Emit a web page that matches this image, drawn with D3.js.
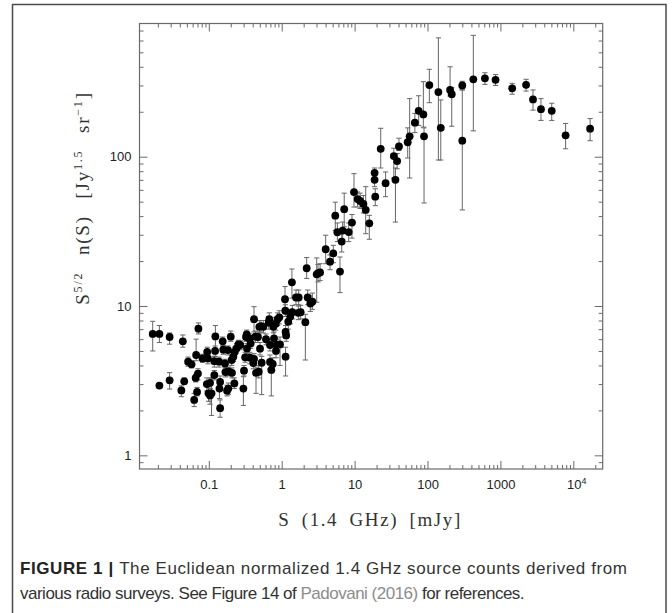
<!DOCTYPE html>
<html>
<head>
<meta charset="utf-8">
<script src="https://cdn.jsdelivr.net/npm/d3@7"></script>
<style>
  body { margin: 0; background: #fff; }
  svg { display: block; }
</style>
</head>
<body>
<div id="chart"></div>
<script>
// source counts: S in mJy, N = S^5/2 n(S), error bar ends
var fluxS = [0.017, 0.021, 0.029, 0.044, 0.021, 0.029, 0.042, 0.046, 0.072, 0.052,
  0.058, 0.067, 0.063, 0.069, 0.071, 0.066, 0.082, 0.095, 0.097, 0.123,
  0.122, 0.119, 0.094, 0.104, 0.099, 0.109, 0.104, 0.119, 0.143, 0.138,
  0.143, 0.14, 0.155, 0.158, 0.167, 0.169, 0.185, 0.178, 0.2, 0.183,
  0.206, 0.187, 0.208, 0.224, 0.217, 0.226, 0.24, 0.255, 0.27, 0.298,
  0.304, 0.315, 0.331, 0.324, 0.36, 0.334, 0.375, 0.367, 0.417, 0.408,
  0.417, 0.444, 0.484, 0.435, 0.473, 0.493, 0.52, 0.504, 0.531, 0.56,
  0.609, 0.676, 0.663, 0.691, 0.691, 0.72, 0.753, 0.767, 0.784, 0.827,
  0.854, 0.835, 0.88, 0.927, 0.948, 1.11, 1.12, 1.13, 1.13, 1.15,
  1.23, 1.31, 1.38, 1.4, 1.57, 1.71, 1.69, 1.82, 2.11, 2.2,
  2.27, 2.47, 2.63, 3.02, 3.15, 3.36, 4.01, 4.6, 5.1, 6.3,
  5.43, 5.8, 6.65, 6.85, 8.3, 7.2, 9.2, 9.8, 11.0, 11.9,
  13.2, 14.2, 15.9, 19.2, 18.8, 18.8, 26.6, 22.8, 34.5, 38.3,
  36.3, 40.6, 53.5, 56.9, 67.1, 75.6, 87.7, 89.6, 106, 141,
  152, 204, 215, 300, 300, 425, 613, 858, 1450, 2250,
  2800, 3600, 5060, 7840, 17000];

var countN = [6.5, 6.5, 6.2, 5.8, 2.93, 3.18, 2.72, 3.13, 7.05, 4.24,
  4.07, 4.7, 2.35, 2.66, 3.53, 3.3, 4.46, 4.93, 4.46, 6.26,
  5.0, 4.27, 3.0, 3.06, 2.6, 2.6, 2.52, 3.45, 2.07, 4.24,
  3.1, 2.8, 5.8, 5.1, 4.12, 3.61, 2.8, 2.71, 6.23, 5.07,
  4.35, 3.65, 3.57, 3.03, 4.58, 4.93, 5.2, 5.53, 5.48, 2.8,
  3.69, 4.53, 6.46, 6.2, 6.07, 5.2, 5.6, 4.51, 8.16, 4.15,
  4.42, 3.57, 3.63, 6.23, 6.2, 7.26, 7.33, 5.18, 4.17, 7.26,
  5.99, 8.16, 7.73, 5.48, 4.22, 3.73, 4.09, 7.26, 6.08, 7.6,
  5.48, 5.0, 8.16, 8.4, 5.53, 11.1, 9.3, 6.7, 4.58, 6.35,
  7.85, 8.5, 14.4, 9.1, 11.4, 11.4, 9.0, 9.1, 7.8, 17.9,
  11.4, 10.4, 10.7, 16.3, 16.6, 16.8, 24.0, 19.8, 22.5, 17,
  40.3, 31.2, 27, 32.0, 31.3, 44.5, 36.2, 58, 52, 50.5,
  48.3, 44, 35.8, 54, 78, 70, 66.5, 113, 101, 93.5,
  70, 117, 125, 137, 169, 203, 192, 137, 302, 271,
  156, 280, 262, 300, 128, 330, 335, 327, 287, 303,
  242, 208, 203, 139, 154];

var errLo = [5.0, 5.7, 5.55, 5.3, 2.85, 2.78, 2.47, 3.0, 6.5, 3.95,
  3.85, 4.3, 2.12, 2.5, 3.2, 3.1, 4.2, 4.6, 4.1, 5.2,
  4.6, 3.9, 2.7, 2.8, 2.3, 1.85, 2.2, 3.2, 1.8, 3.9,
  2.8, 2.4, 5.4, 4.75, 3.85, 3.35, 2.55, 2.5, 5.8, 4.7,
  4.0, 3.4, 3.3, 2.8, 4.25, 4.6, 4.85, 5.15, 5.1, 2.16,
  3.4, 4.2, 6.0, 5.8, 5.6, 4.8, 5.2, 4.1, 6.7, 3.8,
  4.0, 2.6, 3.3, 5.7, 5.7, 6.6, 6.7, 4.7, 2.55, 6.6,
  5.5, 7.4, 7.0, 5.0, 3.8, 2.5, 3.7, 6.6, 5.5, 6.9,
  5.0, 4.5, 7.4, 7.6, 4.0, 9.2, 8.5, 6.1, 3.4, 5.8,
  7.0, 7.6, 11.3, 8.2, 10.2, 10.2, 8.1, 8.2, 4.35, 15.3,
  10.2, 9.2, 9.5, 10.6, 14.5, 14.8, 19.2, 17.5, 19.5, 12.3,
  32, 27, 23, 28, 27, 34, 28.5, 46, 46, 45,
  42, 30.5, 28, 47, 70, 63, 54, 84, 72, 83,
  36.5, 110, 98, 72, 145, 162, 158, 49, 230, 95,
  95, 255, 160, 280, 44, 149, 305, 300, 262, 275,
  205, 175, 175, 113, 128];

var errHi = [7.9, 7.4, 6.6, 6.4, 3.0, 3.58, 2.92, 3.3, 7.7, 4.55,
  4.3, 6.0, 2.6, 2.85, 3.8, 3.5, 4.75, 5.3, 4.8, 7.4,
  5.4, 4.6, 3.3, 3.3, 2.9, 3.3, 2.8, 3.7, 2.35, 4.55,
  3.4, 3.2, 6.2, 5.45, 4.4, 3.9, 3.05, 2.95, 6.8, 5.4,
  4.7, 3.9, 3.85, 3.3, 4.9, 5.3, 5.6, 5.9, 5.85, 3.36,
  4.0, 4.9, 6.9, 6.6, 6.5, 5.6, 6.0, 4.9, 9.9, 4.5,
  4.8, 3.9, 4.0, 6.8, 6.7, 8.0, 8.0, 5.7, 4.6, 8.0,
  6.5, 9.0, 8.5, 6.0, 4.7, 4.1, 4.5, 8.0, 6.7, 8.4,
  6.0, 5.5, 9.0, 9.3, 6.2, 13.5, 10.2, 7.4, 5.3, 7.0,
  8.8, 9.5, 17.7, 10.1, 12.8, 12.8, 10.0, 10.1, 8.8, 21.1,
  12.8, 11.7, 12.2, 21, 19, 19.2, 29.8, 22, 25.5, 21.3,
  49.6, 36, 32, 36.5, 36, 57, 41, 77, 58, 57,
  55, 63, 40.5, 61, 84, 77, 79, 155, 114, 105,
  84, 133, 156, 245, 195, 256, 318, 156, 385, 625,
  240, 400, 290, 320, 280, 650, 365, 355, 310, 330,
  280, 245, 228, 167, 180];

var xTicks = [0.1, 1, 10, 100, 1000, 10000];
var xTickLabels = ["0.1", "1", "10", "100", "1000", "10"];
var yTicks = [1, 10, 100];
var yTickLabels = ["1", "10", "100"];

var width = 672, height = 613;
var plotLeft = 139.5, plotRight = 602.7, plotTop = 23.5, plotBottom = 469;

var svg = d3.select("#chart").append("svg")
  .attr("width", width)
  .attr("height", height);

// outer figure box
svg.append("rect")
  .attr("x", 12.5).attr("y", 4.5)
  .attr("width", 653.5).attr("height", 640)
  .attr("fill", "none").attr("stroke", "#4a4a4a").attr("stroke-width", 1.5);

var x = d3.scaleLog().domain([0.0112, 25300]).range([plotLeft, plotRight]);
var y = d3.scaleLog().domain([0.81, 780]).range([plotBottom, plotTop]);

function minors(scale) {
  var d = scale.domain(), out = [];
  for (var e = Math.floor(Math.log10(d[0])); e <= Math.ceil(Math.log10(d[1])); e++) {
    for (var k = 2; k <= 9; k++) {
      var v = k * Math.pow(10, e);
      if (v > d[0] && v < d[1]) out.push(v);
    }
  }
  return out;
}

var axisColor = "#6a6a6a";

function styleAxis(g) {
  g.select(".domain").remove();
  g.selectAll("line").attr("stroke", axisColor).attr("stroke-width", 1);
  g.selectAll("text")
    .attr("fill", "#222")
    .style("font-family", "'Liberation Sans', Arial, sans-serif")
    .style("font-size", "13px");
}

// bottom
svg.append("g").attr("transform", "translate(0," + plotBottom + ")")
  .call(d3.axisBottom(x).tickValues(minors(x)).tickSize(-4).tickFormat(""))
  .call(styleAxis);
var xAxisG = svg.append("g").attr("transform", "translate(0," + plotBottom + ")")
  .call(d3.axisBottom(x).tickValues(xTicks).tickSize(-8).tickPadding(11)
    .tickFormat(function(d, i) { return xTickLabels[i]; }))
  .call(styleAxis);
var tenK = xAxisG.selectAll(".tick text").filter(function(d) { return d === 10000; });
tenK.append("tspan").attr("dy", "-0.55em").style("font-size", "9px").text("4");
tenK.attr("dx", "3px");

// top
svg.append("g").attr("transform", "translate(0," + plotTop + ")")
  .call(d3.axisTop(x).tickValues(minors(x)).tickSize(-4).tickFormat(""))
  .call(styleAxis);
svg.append("g").attr("transform", "translate(0," + plotTop + ")")
  .call(d3.axisTop(x).tickValues(xTicks).tickSize(-8).tickFormat(""))
  .call(styleAxis);

// left
svg.append("g").attr("transform", "translate(" + plotLeft + ",0)")
  .call(d3.axisLeft(y).tickValues(minors(y)).tickSize(-4).tickFormat(""))
  .call(styleAxis);
svg.append("g").attr("transform", "translate(" + plotLeft + ",0)")
  .call(d3.axisLeft(y).tickValues(yTicks).tickSize(-8).tickPadding(8)
    .tickFormat(function(d, i) { return yTickLabels[i]; }))
  .call(styleAxis);

// right
svg.append("g").attr("transform", "translate(" + plotRight + ",0)")
  .call(d3.axisRight(y).tickValues(minors(y)).tickSize(-4).tickFormat(""))
  .call(styleAxis);
svg.append("g").attr("transform", "translate(" + plotRight + ",0)")
  .call(d3.axisRight(y).tickValues(yTicks).tickSize(-8).tickFormat(""))
  .call(styleAxis);

// frame
svg.append("rect")
  .attr("x", plotLeft).attr("y", plotTop)
  .attr("width", plotRight - plotLeft).attr("height", plotBottom - plotTop)
  .attr("fill", "none").attr("stroke", axisColor).attr("stroke-width", 1.2);

var pts = fluxS.map(function(s, i) {
  return { s: s, n: countN[i], lo: errLo[i], hi: errHi[i] };
});

var errColor = "#666";
var cap = 2.6;
var eb = svg.append("g").attr("class", "errbars");
eb.selectAll(".ev").data(pts).enter().append("line")
  .attr("x1", d => x(d.s)).attr("x2", d => x(d.s))
  .attr("y1", d => y(d.lo)).attr("y2", d => y(d.hi))
  .attr("stroke", errColor).attr("stroke-width", 1);
eb.selectAll(".ct").data(pts).enter().append("line")
  .attr("x1", d => x(d.s) - cap).attr("x2", d => x(d.s) + cap)
  .attr("y1", d => y(d.hi)).attr("y2", d => y(d.hi))
  .attr("stroke", errColor).attr("stroke-width", 1);
eb.selectAll(".cb").data(pts).enter().append("line")
  .attr("x1", d => x(d.s) - cap).attr("x2", d => x(d.s) + cap)
  .attr("y1", d => y(d.lo)).attr("y2", d => y(d.lo))
  .attr("stroke", errColor).attr("stroke-width", 1);

svg.append("g").selectAll("circle").data(pts).enter().append("circle")
  .attr("cx", d => x(d.s)).attr("cy", d => y(d.n))
  .attr("r", 3.9).attr("fill", "#000");

// axis titles
var serif = "'Liberation Serif', 'Times New Roman', serif";
svg.append("text")
  .attr("x", 370).attr("y", 526)
  .attr("text-anchor", "middle")
  .style("font-family", serif).style("font-size", "19px")
  .style("letter-spacing", "1.6px").style("word-spacing", "5px")
  .attr("fill", "#333")
  .text("S (1.4 GHz) [mJy]");

var yl = svg.append("text")
  .attr("transform", "translate(89,198) rotate(-90)")
  .attr("text-anchor", "middle")
  .style("font-family", serif).style("font-size", "19px")
  .style("letter-spacing", "1.8px").style("word-spacing", "10px")
  .attr("fill", "#333");
yl.append("tspan").text("S");
yl.append("tspan").attr("dy", "-7").style("font-size", "12px").text("5/2");
yl.append("tspan").attr("dy", "7").text(" n(S) [Jy");
yl.append("tspan").attr("dy", "-7").style("font-size", "12px").text("1.5");
yl.append("tspan").attr("dy", "7").text(" sr");
yl.append("tspan").attr("dy", "-7").style("font-size", "12px").text("\u22121");
yl.append("tspan").attr("dy", "7").text("]");

// caption
var sans = "'Liberation Sans', Arial, sans-serif";
var c1 = svg.append("text").attr("x", 20).attr("y", 574)
  .style("font-family", sans).style("font-size", "17px").attr("fill", "#333")
  .attr("textLength", 607).attr("lengthAdjust", "spacing");
c1.append("tspan").style("font-weight", "bold").attr("fill", "#222").text("FIGURE 1 | ");
c1.append("tspan").text("The Euclidean normalized 1.4 GHz source counts derived from");

var c2 = svg.append("text").attr("x", 20).attr("y", 599)
  .style("font-family", sans).style("font-size", "17px").attr("fill", "#333")
  .style("letter-spacing", "-0.5px");
c2.append("tspan").text("various radio surveys. See Figure 14 of ");
c2.append("tspan").attr("fill", "#8c8c8c").text("Padovani (2016)");
c2.append("tspan").text(" for references.");
</script>
</body>
</html>
